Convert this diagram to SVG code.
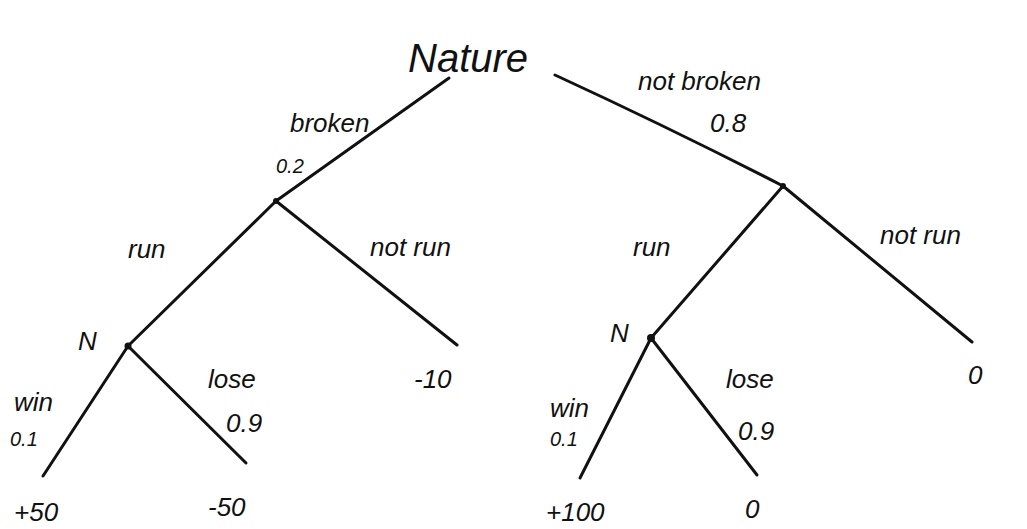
<svg xmlns="http://www.w3.org/2000/svg" width="1027" height="529" viewBox="0 0 1027 529">
<style>
.e{stroke:#111;stroke-width:3;fill:none;stroke-linecap:round}
text{font-family:"Liberation Sans",Arial,sans-serif;fill:#111;font-style:italic}
.lb{font-size:26px}
.pr{font-size:20px}
.big{font-size:40px}
.dot{fill:#111}
</style>
<rect width="1027" height="529" fill="#fff"/>
<g id="connectors">
<path class="e" d="M449,78 L276,201"/>
<path class="e" d="M555,75 Q670,128 783,186"/>
<path class="e" d="M276,201 L128,346"/>
<path class="e" d="M276,201 L457,345"/>
<path class="e" d="M128,346 L43,476"/>
<path class="e" d="M128,346 L246,463"/>
<path class="e" d="M783,186 L651,338"/>
<path class="e" d="M783,186 L972,342"/>
<path class="e" d="M651,338 L580,478"/>
<path class="e" d="M651,338 L757,475"/>
<text class="lb" x="290" y="132">broken</text>
<text class="pr" x="276" y="173">0.2</text>
<text class="lb" x="638" y="90">not broken</text>
<text class="lb" x="710" y="132">0.8</text>
<text class="lb" x="128" y="258">run</text>
<text class="lb" x="370" y="256">not run</text>
<text class="lb" x="633" y="256">run</text>
<text class="lb" x="880" y="244">not run</text>
<text class="lb" x="14" y="411">win</text>
<text class="pr" x="10" y="446">0.1</text>
<text class="lb" x="208" y="388">lose</text>
<text class="lb" x="226" y="432">0.9</text>
<text class="lb" x="550" y="417">win</text>
<text class="pr" x="550" y="446">0.1</text>
<text class="lb" x="726" y="388">lose</text>
<text class="lb" x="738" y="440">0.9</text>
</g>
<g id="nature"><text class="big" x="408" y="72">Nature</text></g>
<g id="decision-broken"><circle class="dot" cx="276" cy="201" r="3"/></g>
<g id="decision-notbroken"><circle class="dot" cx="783" cy="186" r="3"/></g>
<g id="chance-left"><circle class="dot" cx="128" cy="346" r="3.5"/><text class="lb" x="78" y="350">N</text></g>
<g id="chance-right"><circle class="dot" cx="651" cy="338" r="4"/><text class="lb" x="610" y="342">N</text></g>
<g id="leaf-plus50"><text class="lb" x="14" y="521">+50</text></g>
<g id="leaf-minus50"><text class="lb" x="208" y="516">-50</text></g>
<g id="leaf-minus10"><text class="lb" x="414" y="388">-10</text></g>
<g id="leaf-plus100"><text class="lb" x="546" y="521">+100</text></g>
<g id="leaf-zero-lose"><text class="lb" x="745" y="518">0</text></g>
<g id="leaf-zero-notrun"><text class="lb" x="968" y="384">0</text></g>
</svg>
